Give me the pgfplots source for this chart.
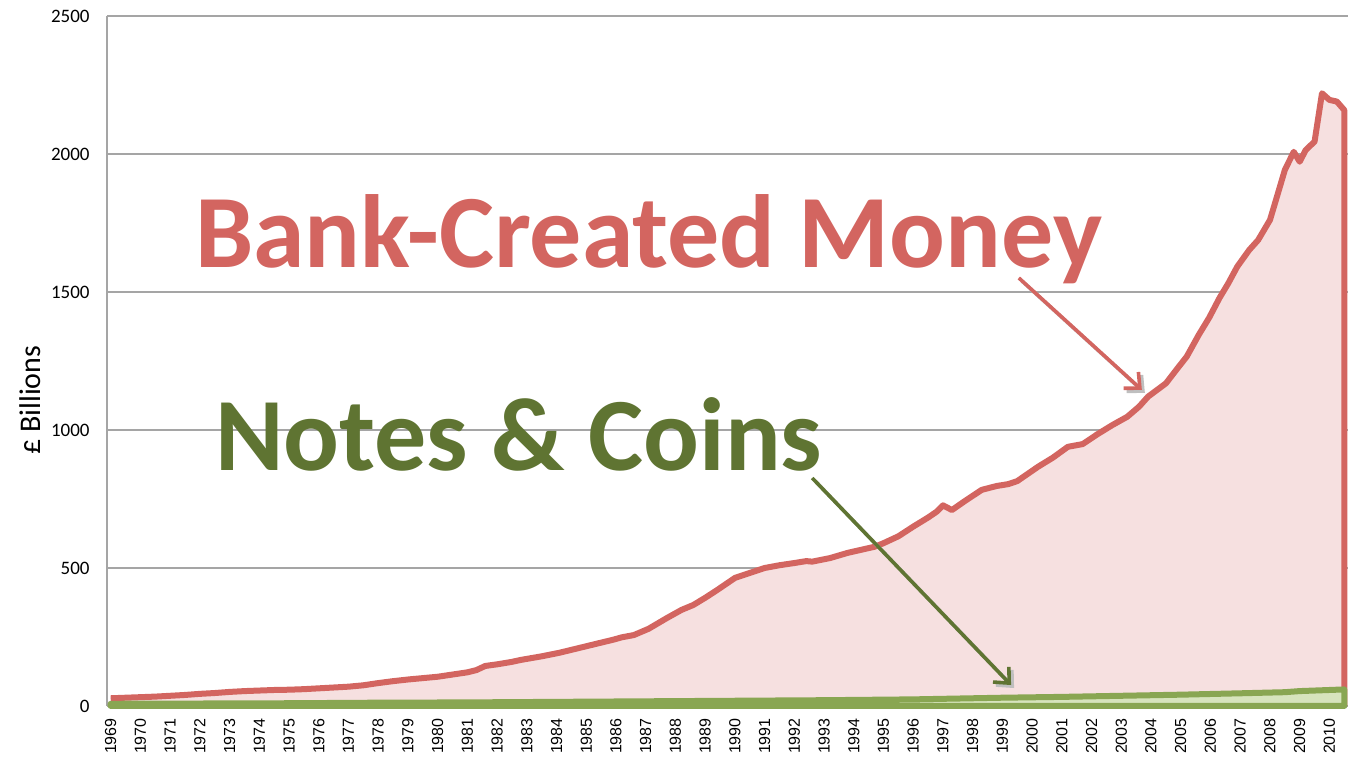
\documentclass[border=0pt]{standalone}
\usepackage{pgfplots}
\pgfplotsset{compat=1.18}
\usepackage{fontspec}
\setmainfont{Carlito}
\newfontfamily\arialfont{Liberation Sans}
\usetikzlibrary{arrows.meta}
\definecolor{redline}{RGB}{211,101,96}
\definecolor{redfill}{RGB}{246,224,224}
\definecolor{greenline}{RGB}{137,166,82}
\definecolor{greenfill}{RGB}{215,228,189}
\definecolor{darkgreen}{RGB}{95,116,50}
\definecolor{gridgray}{RGB}{165,165,165}
\begin{document}
\begin{tikzpicture}
\begin{axis}[
  scale only axis,
  width=620.5pt, height=345pt,
  xmin=1968.875, xmax=2010.625,
  ymin=0, ymax=2500,
  axis x line=bottom, axis y line=left,
  axis line style={gridgray, line width=0.6pt, -},
  xtick={1969,...,2010},
  ytick={0,500,...,2500},
  ymajorgrids, major grid style={gridgray, line width=0.6pt},
  major tick length=0pt,
  /pgf/number format/assume math mode=true,
  x tick label style={/pgf/number format/1000 sep={}, rotate=90, anchor=east, inner sep=0pt, xshift=-6pt, font=\arialfont\fontsize{8pt}{9pt}\selectfont},
  xticklabel={\pgfmathprintnumber[1000 sep={},fixed,precision=0]{\tick}},
  y tick label style={/pgf/number format/1000 sep={}, anchor=east, inner sep=0pt, xshift=-8.5pt, font=\fontsize{9.5pt}{10pt}\selectfont},
  ylabel={\pounds\ Billions},
  ylabel style={at={(axis description cs:0,0.443)}, anchor=center, yshift=38.5pt, font=\fontsize{15pt}{16pt}\selectfont},
  clip=false,
]
\coordinate (O) at (rel axis cs:0,0);
% red area fill
\addplot[draw=none, fill=redfill] coordinates {
(1969.00,28)(1969.50,30)(1970.00,32)(1970.50,34)(1971.00,37)(1971.50,40)(1972.00,44)(1972.50,47)
(1973.00,51)(1973.50,54)(1974.00,56)(1974.50,58)(1975.00,59)(1975.50,61)(1976.00,64)(1976.50,67)
(1977.00,70)(1977.50,75)(1978.00,83)(1978.50,90)(1979.00,96)(1979.50,101)(1980.00,106)(1980.50,114)
(1981.00,122)(1981.30,130)(1981.60,145)(1982.00,151)(1982.50,160)(1982.80,167)(1983.50,180)(1984.10,193)
(1984.75,210)(1985.40,227)(1985.90,240)(1986.20,249)(1986.60,257)(1987.10,280)(1987.70,318)(1988.20,348)
(1988.60,366)(1989.00,392)(1989.40,420)(1990.00,464)(1990.50,482)(1991.00,500)(1991.50,510)(1992.00,518)
(1992.40,525)(1992.60,523)(1993.20,536)(1993.80,555)(1994.70,577)(1995.00,590)(1995.50,615)(1996.00,650)
(1996.50,683)(1996.80,705)(1997.00,727)(1997.30,710)(1997.70,740)(1998.30,783)(1998.80,797)(1999.20,804)
(1999.50,815)(2000.20,867)(2000.70,900)(2001.20,939)(2001.70,949)(2002.20,985)(2002.70,1018)(2003.20,1048)
(2003.60,1085)(2003.90,1121)(2004.50,1169)(2004.90,1225)(2005.20,1266)(2005.60,1344)(2005.95,1406)(2006.30,1478)
(2006.60,1532)(2006.90,1592)(2007.30,1652)(2007.60,1688)(2008.00,1761)(2008.20,1833)(2008.50,1942)(2008.80,2008)
(2009.00,1972)(2009.20,2014)(2009.50,2045)(2009.75,2220)(2010.00,2196)(2010.25,2190)(2010.50,2159)
} \closedcycle;
% red line
\addplot[redline, line width=3pt, line join=round] coordinates {
(1969.00,28)(1969.50,30)(1970.00,32)(1970.50,34)(1971.00,37)(1971.50,40)(1972.00,44)(1972.50,47)
(1973.00,51)(1973.50,54)(1974.00,56)(1974.50,58)(1975.00,59)(1975.50,61)(1976.00,64)(1976.50,67)
(1977.00,70)(1977.50,75)(1978.00,83)(1978.50,90)(1979.00,96)(1979.50,101)(1980.00,106)(1980.50,114)
(1981.00,122)(1981.30,130)(1981.60,145)(1982.00,151)(1982.50,160)(1982.80,167)(1983.50,180)(1984.10,193)
(1984.75,210)(1985.40,227)(1985.90,240)(1986.20,249)(1986.60,257)(1987.10,280)(1987.70,318)(1988.20,348)
(1988.60,366)(1989.00,392)(1989.40,420)(1990.00,464)(1990.50,482)(1991.00,500)(1991.50,510)(1992.00,518)
(1992.40,525)(1992.60,523)(1993.20,536)(1993.80,555)(1994.70,577)(1995.00,590)(1995.50,615)(1996.00,650)
(1996.50,683)(1996.80,705)(1997.00,727)(1997.30,710)(1997.70,740)(1998.30,783)(1998.80,797)(1999.20,804)
(1999.50,815)(2000.20,867)(2000.70,900)(2001.20,939)(2001.70,949)(2002.20,985)(2002.70,1018)(2003.20,1048)
(2003.60,1085)(2003.90,1121)(2004.50,1169)(2004.90,1225)(2005.20,1266)(2005.60,1344)(2005.95,1406)(2006.30,1478)
(2006.60,1532)(2006.90,1592)(2007.30,1652)(2007.60,1688)(2008.00,1761)(2008.20,1833)(2008.50,1942)(2008.80,2008)
(2009.00,1972)(2009.20,2014)(2009.50,2045)(2009.75,2220)(2010.00,2196)(2010.25,2190)(2010.50,2159)(2010.50,0)
};
% green area
\addplot[draw=greenline, line width=3pt, line join=round, fill=greenfill] coordinates {
(1969,8)(1972,9)(1975,10)(1978,12)(1981,13)(1984,15)(1987,17)(1990,19)(1993,21)(1996,24)
(1999,30)(2001,33)(2003,37)(2005,41)(2007,46)(2008.5,50)(2009,54)(2010.5,60)
} \closedcycle;
% annotations
\node[anchor=base west, inner sep=0pt, text=redline, font=\bfseries\fontsize{52pt}{60pt}\selectfont] at (axis cs:1971.83,1587) {Bank-Created Money};
\node[anchor=base west, inner sep=0pt, text=darkgreen, font=\bfseries\fontsize{52pt}{60pt}\selectfont] at (axis cs:1972.5,855) {Notes \& Coins};
\draw[black!25, line width=1.8pt, -{Straight Barb[length=6pt,width=11pt]}, transform canvas={xshift=1.5pt,yshift=-1.5pt}] (axis cs:1999.55,1551) -- (axis cs:2003.69,1145);
\draw[redline, line width=1.8pt, -{Straight Barb[length=6pt,width=11pt]}] (axis cs:1999.55,1551) -- (axis cs:2003.69,1145);
\draw[black!25, line width=1.8pt, -{Straight Barb[length=6pt,width=11pt]}, transform canvas={xshift=1.5pt,yshift=-1.5pt}] (axis cs:1992.6,826) -- (axis cs:1999.29,76);
\draw[darkgreen, line width=1.8pt, -{Straight Barb[length=6pt,width=11pt]}] (axis cs:1992.6,826) -- (axis cs:1999.29,76);
\end{axis}
\pgfresetboundingbox
\path[use as bounding box] (O) ++(-53.5pt,-26pt) rectangle ++(685pt,379pt);
\end{tikzpicture}
\end{document}
